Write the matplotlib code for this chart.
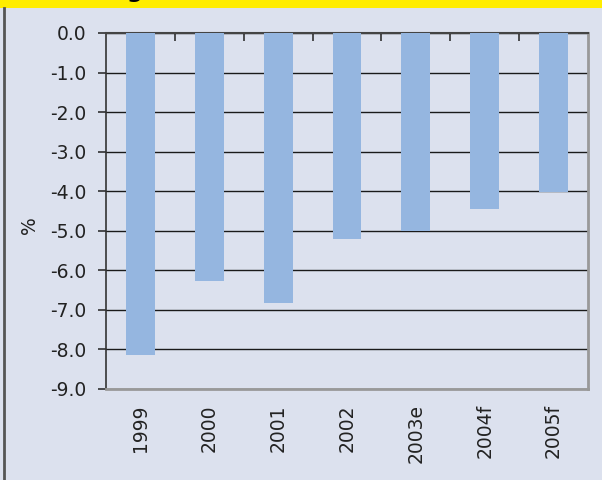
import matplotlib
matplotlib.use("Agg")
import matplotlib.pyplot as plt
from matplotlib.lines import Line2D
from matplotlib.patches import Rectangle

categories = ["1999", "2000", "2001", "2002", "2003e", "2004f", "2005f"]
values = [-8.15, -6.28, -6.83, -5.2, -5.0, -4.46, -4.02]
yticks = [0.0, -1.0, -2.0, -3.0, -4.0, -5.0, -6.0, -7.0, -8.0, -9.0]

BG = "#DCE1EE"
BAR = "#95B6E0"
YEL = "#FFED00"
TXT = "#222222"

plt.rcParams['font.family'] = ['DejaVu Sans']

fig = plt.figure(figsize=(6.02, 4.8), dpi=100)
fig.patch.set_facecolor(BG)

# yellow band at top
fig.patches.append(Rectangle((0, 1 - 8/480), 1, 8/480, transform=fig.transFigure,
                             facecolor=YEL, edgecolor='none', zorder=0))
# cut-off title glyph
fig.text(135/602, 1 + 1.5/480, "g", fontsize=16, fontweight='bold', ha='center',
         va='baseline', color='black', zorder=5)
# left border
fig.lines.append(Line2D([4/602, 4/602], [0, 1 - 8/480], transform=fig.transFigure,
                        color='#555555', linewidth=2))

ax = fig.add_axes([106/602, 1 - 389/480, 482/602, 356/480])
ax.set_facecolor(BG)
x = list(range(len(categories)))
ax.bar(x, values, width=0.42, color=BAR, zorder=3)

ax.set_xlim(-0.5, len(categories) - 0.5)
ax.set_ylim(-9.0, 0.0)
ax.set_yticks(yticks)
ax.set_yticklabels([f"{v:.1f}" for v in yticks], fontsize=13.5, color=TXT)
ax.yaxis.grid(True, color='#1a1a1a', linewidth=1.0, zorder=1)
ax.set_axisbelow(True)
ax.tick_params(axis='y', direction='out', length=6, width=1.1, color=TXT, pad=8)

ax.set_xticks(x)
ax.set_xticklabels(categories, rotation=90, fontsize=13.5, color=TXT,
                   rotation_mode='anchor', ha='right', va='center')
ax.tick_params(axis='x', which='major', length=0, pad=11)
ax.set_xticks([i + 0.5 for i in range(len(categories) - 1)], minor=True)
ax.tick_params(axis='x', which='minor', top=True, bottom=False, direction='in',
               length=6, width=1.1, color=TXT)

fig.text(30/602, 1 - 225/480, "%", fontsize=13.5, color=TXT, rotation=90,
         ha='center', va='center')

ax.spines['top'].set_color('#444444')
ax.spines['top'].set_linewidth(1.5)
ax.spines['left'].set_color('#333333')
ax.spines['left'].set_linewidth(1.2)
ax.spines['right'].set_color('#999999')
ax.spines['right'].set_linewidth(2)
ax.spines['bottom'].set_color('#999999')
ax.spines['bottom'].set_linewidth(2)

fig.savefig("out.png", dpi=100, facecolor=BG)
